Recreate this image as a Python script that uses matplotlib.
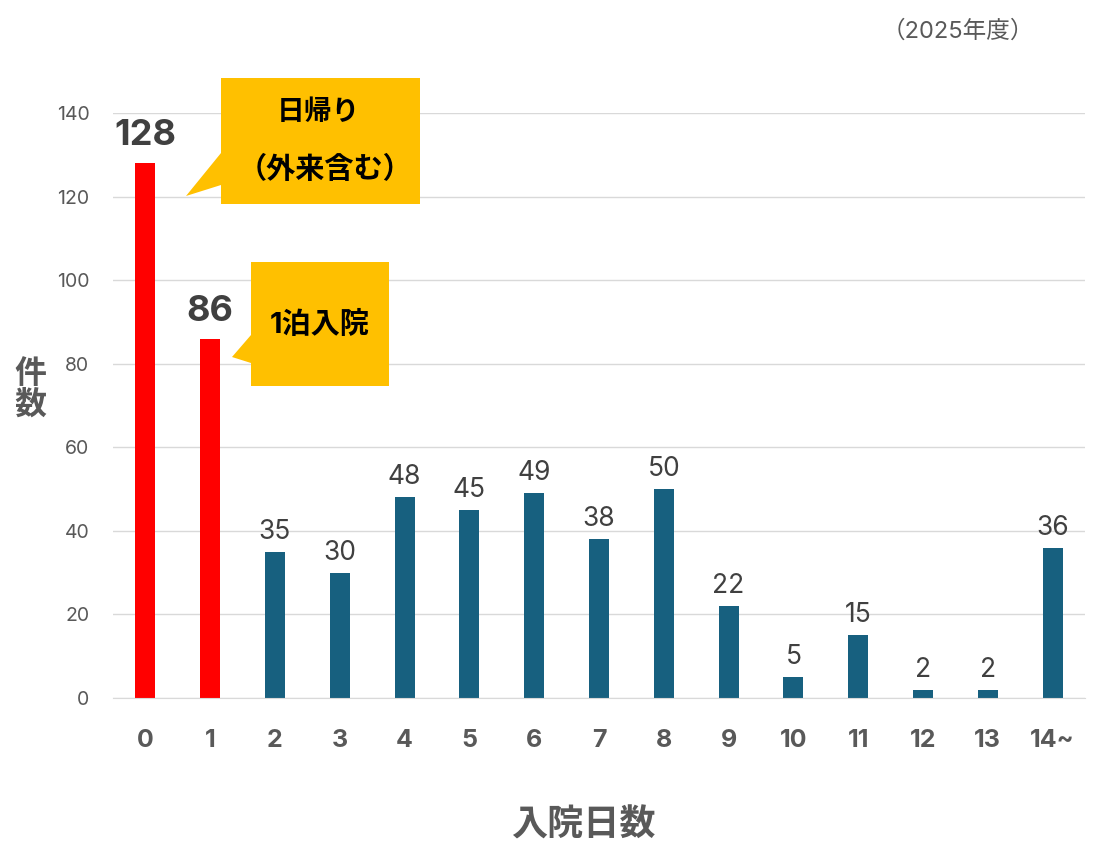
import matplotlib
matplotlib.use('Agg')

import matplotlib.pyplot as plt
from matplotlib.patches import Polygon

# data
categories = ['0', '1', '2', '3', '4', '5', '6', '7', '8', '9', '10', '11', '12', '13', '14~']
counts = [128, 86, 35, 30, 48, 45, 49, 38, 50, 22, 5, 15, 2, 2, 36]
highlight = 2  # first bars (day trip / 1 night) drawn in red
y_ticks = [0, 20, 40, 60, 80, 100, 120, 140]

W, H = 1118, 857
FONT = ['Inter', 'Noto Sans CJK JP', 'DejaVu Sans']
plt.rcParams['font.family'] = FONT

RED = '#FF0000'
BLUE = '#17607F'
GOLD = '#FFC000'
DARK = '#404040'
GREY = '#595959'


def px(x, y):
    # pixel position -> figure fraction
    return (x / W, 1 - y / H)


fig = plt.figure(figsize=(W / 100, H / 100), dpi=100)
ax = fig.add_axes([113 / W, 1 - 698 / H, (1085 - 113) / W, (698 - 113) / H])

x = list(range(len(categories)))
colors = [RED if i < highlight else BLUE for i in x]
ax.bar(x, counts, width=0.31, color=colors, zorder=3)

for i, v in enumerate(counts):
    if i < highlight:
        ax.annotate(str(v), (i, v), xytext=(0, 8), textcoords='offset points',
                    ha='center', va='bottom', fontsize=26, fontweight='bold', color=DARK)
    else:
        ax.annotate(str(v), (i, v), xytext=(0, 5), textcoords='offset points',
                    ha='center', va='bottom', fontsize=19, color=DARK)

ax.set_xlim(-0.5, len(categories) - 0.5)
ax.set_ylim(0, 140)
ax.set_yticks(y_ticks)
ax.set_xticks(x)
ax.set_xticklabels(categories, fontsize=18, fontweight='bold', color=GREY)
ax.tick_params(axis='x', length=0, pad=22)
ax.tick_params(axis='y', length=0, pad=17, labelsize=14, labelcolor=GREY)
ax.grid(axis='y', color='#D9D9D9', linewidth=1, zorder=0)
for s in ['top', 'right', 'left']:
    ax.spines[s].set_visible(False)
ax.spines['bottom'].set_color('#D9D9D9')
ax.spines['bottom'].set_zorder(4)

# callouts
call1 = [(221, 78), (420, 78), (420, 204), (221, 204), (221, 185), (186, 196), (221, 153)]
call2 = [(251, 262), (389, 262), (389, 386), (251, 386), (251, 363), (232, 357), (251, 335)]
for pts in (call1, call2):
    fig.patches.append(Polygon([px(a, b) for a, b in pts], closed=True,
                               transform=fig.transFigure, facecolor=GOLD,
                               edgecolor='none', zorder=5))

fig.text(*px(318, 113), '日帰り', ha='center', va='center', fontsize=20,
         fontweight='bold', color='black', zorder=6)
fig.text(*px(325, 170), '（外来含む）', ha='center', va='center', fontsize=21,
         fontweight='bold', color='black', zorder=6)
fig.text(*px(320, 325), '1泊入院', ha='center', va='center', fontsize=21,
         fontweight='bold', color='black', zorder=6)

# labels
fig.text(*px(30, 390), '件\n数', ha='center', va='center', fontsize=23,
         fontweight='bold', color=GREY, linespacing=1.0)
fig.text(*px(583, 825), '入院日数', ha='center', va='center', fontsize=26,
         fontweight='bold', color=GREY)
fig.text(*px(958, 32), '（2025年度）', ha='center', va='center', fontsize=17,
         color=GREY)

fig.savefig('out.png', dpi=100)
